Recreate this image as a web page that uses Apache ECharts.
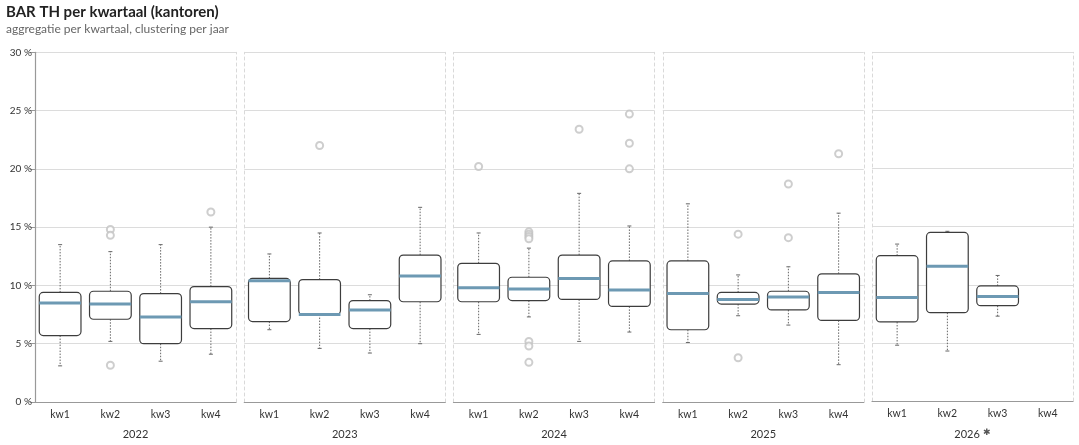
<!DOCTYPE html>
<html>
<head>
<meta charset="utf-8">
<script src="https://cdn.jsdelivr.net/npm/echarts@6/dist/echarts.min.js"></script>
<style>
  html, body { margin: 0; padding: 0; background: #fff; }
  #chart { width: 1079px; height: 445px; }
</style>
</head>
<body>
<div id="chart"></div>
<script>
var years = ['2022', '2023', '2024', '2025', '2026'];
var yearLabels = ['2022', '2023', '2024', '2025', '2026 {s|✱}'];
var quarters = ['kw1', 'kw2', 'kw3', 'kw4'];
var yTicks = [0, 5, 10, 15, 20, 25, 30];

// per year: [kwartaal index, whisker laag, q1, mediaan, q3, whisker hoog]
var box2022 = [[0, 3.1, 5.7, 8.5, 9.4, 13.5], [1, 5.2, 7.1, 8.4, 9.5, 12.9], [2, 3.5, 5.0, 7.3, 9.3, 13.5], [3, 4.1, 6.3, 8.6, 9.9, 15.0]];
var box2023 = [[0, 6.2, 6.9, 10.4, 10.6, 12.7], [1, 4.6, 7.5, 7.5, 10.5, 14.5], [2, 4.2, 6.3, 7.9, 8.7, 9.2], [3, 5.0, 8.6, 10.8, 12.6, 16.7]];
var box2024 = [[0, 5.8, 8.6, 9.8, 11.9, 14.5], [1, 7.3, 8.7, 9.7, 10.7, 13.2], [2, 5.2, 8.8, 10.6, 12.6, 17.9], [3, 6.0, 8.2, 9.6, 12.1, 15.1]];
var box2025 = [[0, 5.1, 6.2, 9.3, 12.1, 17.0], [1, 7.4, 8.4, 8.8, 9.4, 10.9], [2, 6.6, 7.9, 9.0, 9.5, 11.6], [3, 3.2, 7.0, 9.4, 11.0, 16.2]];
var box2026 = [[0, 4.8, 6.8, 8.9, 12.5, 13.5], [1, 4.3, 7.6, 11.6, 14.5, 14.6], [2, 7.3, 8.2, 9.0, 9.9, 10.8]];

// uitschieters: [kwartaal index, waarde]
var out2022 = [[1, 14.8], [1, 14.3], [1, 3.15], [3, 16.3]];
var out2023 = [[1, 22.0]];
var out2024 = [[0, 20.2], [1, 14.6], [1, 14.4], [1, 14.2], [1, 14.0], [1, 5.2], [1, 4.8], [1, 3.4], [2, 23.4], [3, 24.7], [3, 22.2], [3, 20.0]];
var out2025 = [[1, 14.4], [1, 3.8], [2, 18.7], [2, 14.1], [3, 21.3]];
var out2026 = [];

var boxes = [box2022, box2023, box2024, box2025, box2026];
var outliers = [out2022, out2023, out2024, out2025, out2026];

var fontFam = 'Lato, "Noto Sans", sans-serif';

function renderBox(params, api) {
    var idx = api.value(0);
    var lo = api.coord([idx, api.value(1)]);
    var q1 = api.coord([idx, api.value(2)]);
    var med = api.coord([idx, api.value(3)]);
    var q3 = api.coord([idx, api.value(4)]);
    var hi = api.coord([idx, api.value(5)]);
    var x = med[0];
    var bw = api.size([1, 0])[0] * 0.83;
    var cap = 2;
    var dotted = { stroke: '#666', lineWidth: 1, lineDash: [1.5, 1.5] };
    var solid = { stroke: '#666', lineWidth: 1 };
    return {
        type: 'group',
        children: [
            { type: 'line', shape: { x1: x, y1: q3[1], x2: x, y2: hi[1] }, style: dotted },
            { type: 'line', shape: { x1: x, y1: q1[1], x2: x, y2: lo[1] }, style: dotted },
            { type: 'line', shape: { x1: x - cap, y1: hi[1], x2: x + cap, y2: hi[1] }, style: solid },
            { type: 'line', shape: { x1: x - cap, y1: lo[1], x2: x + cap, y2: lo[1] }, style: solid },
            {
                type: 'rect',
                shape: { x: x - bw / 2, y: q3[1], width: bw, height: q1[1] - q3[1], r: 4 },
                style: { fill: '#fff', stroke: '#3d3d3d', lineWidth: 1.2 }
            },
            {
                type: 'line',
                shape: { x1: x - bw / 2, y1: med[1], x2: x + bw / 2, y2: med[1] },
                style: { stroke: '#6d99b3', lineWidth: 3 }
            }
        ]
    };
}

var grids = [], xAxes = [], yAxes = [], series = [];
var panelW = 201;
for (var i = 0; i < years.length; i++) {
    var left = 35 + i * 209.25;
    grids.push({ left: left, width: panelW, top: 52.3, bottom: 42.3 });
    xAxes.push({
        type: 'category',
        gridIndex: i,
        data: quarters,
        name: yearLabels[i],
        nameLocation: 'middle',
        nameGap: 27,
        nameTextStyle: {
            color: '#333', fontSize: 11, fontFamily: fontFam,
            rich: { s: { fontSize: 9, color: '#555', fontFamily: fontFam, padding: [0, 0, 4, 0] } }
        },
        axisLine: { lineStyle: { color: '#999', width: 1.2 } },
        axisTick: { alignWithLabel: true, length: 4, lineStyle: { color: '#999' } },
        axisLabel: { color: '#333', fontSize: 10.5, fontFamily: fontFam, margin: 7 }
    });
    yAxes.push({
        type: 'value',
        gridIndex: i,
        min: yTicks[0],
        max: yTicks[yTicks.length - 1],
        interval: 5,
        axisLine: i === 0
            ? { show: true, lineStyle: { color: '#999', width: 1.2 } }
            : { show: true, lineStyle: { color: '#d9d9d9', type: [3, 3] } },
        axisTick: { show: i === 0, length: 5, lineStyle: { color: '#999' } },
        axisLabel: {
            show: i === 0, color: '#333', fontSize: 10, fontFamily: fontFam, margin: 3,
            formatter: '{value} %'
        },
        splitLine: { lineStyle: { color: '#dcdcdc' } }
    });
    yAxes.push({
        type: 'value',
        gridIndex: i,
        position: 'right',
        min: yTicks[0],
        max: yTicks[yTicks.length - 1],
        interval: 5,
        axisLine: { show: true, lineStyle: { color: '#d9d9d9', type: [3, 3] } },
        axisTick: { show: false },
        axisLabel: { show: false },
        splitLine: { show: false }
    });
    series.push({
        type: 'custom',
        xAxisIndex: i,
        yAxisIndex: i * 2,
        renderItem: renderBox,
        encode: { x: 0, y: [1, 2, 3, 4, 5] },
        data: boxes[i],
        silent: true
    });
    series.push({
        type: 'scatter',
        xAxisIndex: i,
        yAxisIndex: i * 2,
        symbol: 'emptyCircle',
        symbolSize: 7,
        itemStyle: { color: '#c2c2c2', borderColor: '#c2c2c2', borderWidth: 2 },
        data: outliers[i],
        silent: true,
        z: 3
    });
}

var myChart = echarts.init(document.getElementById('chart'));
var option = {
    animation: false,
    backgroundColor: '#fff',
    title: {
        text: 'BAR TH per kwartaal (kantoren)',
        subtext: 'aggregatie per kwartaal, clustering per jaar',
        left: 1,
        top: 0,
        itemGap: 3,
        textStyle: { color: '#222', fontSize: 15, fontWeight: 'bold', fontFamily: fontFam },
        subtextStyle: { color: '#666', fontSize: 12, fontFamily: fontFam }
    },
    grid: grids,
    xAxis: xAxes,
    yAxis: yAxes,
    series: series
};
myChart.setOption(option);
</script>
</body>
</html>
